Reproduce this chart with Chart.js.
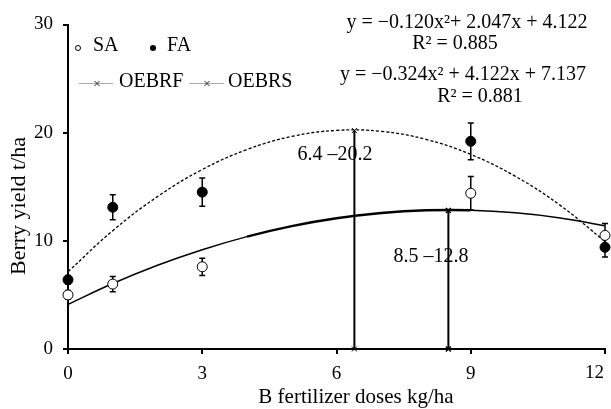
<!DOCTYPE html>
<html>
<head>
<meta charset="utf-8">
<script src="https://cdn.jsdelivr.net/npm/chart.js@4.4.0/dist/chart.umd.min.js"></script>
<style>
html, body { margin: 0; padding: 0; background: #fff; }
#wrap { width: 611px; height: 409px; }
</style>
</head>
<body>
<div id="wrap"><canvas id="chart" width="611" height="409"></canvas></div>
<script>
var FONT = '"Liberation Serif", "DejaVu Serif", serif';

// measured doses and yields (t/ha) with error bar half-widths
var doses = [0, 1, 3, 9, 12];
var saYield = [5.0, 6.0, 7.6, 14.4, 10.5];
var saErr = [0.4, 0.7, 0.8, 1.55, 1.1];
var faYield = [6.4, 13.1, 14.5, 19.2, 9.4];
var faErr = [0.4, 1.15, 1.3, 1.7, 0.9];

// fitted curves at each dose
var curveX = [0, 1, 2, 3, 4, 5, 6, 7, 8, 9, 10, 11, 12];
var faCurve = [7.14, 10.94, 14.09, 16.59, 18.44, 19.65, 20.21, 20.12, 19.38, 17.99, 15.96, 13.28, 9.94];
var saCurve = [4.12, 6.05, 7.74, 9.18, 10.39, 11.36, 12.08, 12.57, 12.82, 12.83, 12.59, 12.12, 11.40];

// optimum economic B rates
var oebrfX = [6.4, 6.4];
var oebrfY = [0, 20.2];
var oebrsX = [8.5, 8.5];
var oebrsY = [0, 12.8];

var xTicks = [0, 3, 6, 9, 12];
var yTicks = [0, 10, 20, 30];

var equations = [
    {text: 'y = \u22120.120x\u00b2+ 2.047x + 4.122', x: 467, y: 23},
    {text: 'R\u00b2 = 0.885', x: 455, y: 44},
    {text: 'y = \u22120.324x\u00b2 + 4.122x + 7.137', x: 463, y: 75},
    {text: 'R\u00b2 = 0.881', x: 480, y: 97}
];

function pts(xs, ys) {
    return xs.map(function(x, i) { return {x: x, y: ys[i]}; });
}

var errorBars = {
    id: 'errorBars',
    beforeDatasetsDraw: function(chart) {
        var ctx = chart.ctx, xs = chart.scales.x, ys = chart.scales.y;
        ctx.save();
        ctx.strokeStyle = '#000';
        ctx.lineWidth = 1.5;
        [[saYield, saErr], [faYield, faErr]].forEach(function(s) {
            doses.forEach(function(d, i) {
                var x = xs.getPixelForValue(d);
                var top = ys.getPixelForValue(s[0][i] + s[1][i]);
                var bot = ys.getPixelForValue(s[0][i] - s[1][i]);
                ctx.beginPath();
                ctx.moveTo(x, top); ctx.lineTo(x, bot);
                ctx.moveTo(x - 3, top); ctx.lineTo(x + 3, top);
                ctx.moveTo(x - 3, bot); ctx.lineTo(x + 3, bot);
                ctx.stroke();
            });
        });
        ctx.restore();
    }
};

function cross(ctx, x, y, r) {
    ctx.beginPath();
    ctx.moveTo(x - r, y - r); ctx.lineTo(x + r, y + r);
    ctx.moveTo(x - r, y + r); ctx.lineTo(x + r, y - r);
    ctx.stroke();
}

var labels = {
    id: 'labels',
    afterDraw: function(chart) {
        var ctx = chart.ctx, ys = chart.scales.y;
        ctx.save();
        ctx.fillStyle = '#000';
        ctx.textBaseline = 'middle';
        ctx.font = '20px ' + FONT;
        ctx.textAlign = 'center';
        equations.forEach(function(e) { ctx.fillText(e.text, e.x, e.y); });
        ctx.fillText('6.4 \u201320.2', 335, 155);
        ctx.fillText('8.5 \u201312.8', 431, 257);

        // axis titles
        ctx.font = '21px ' + FONT;
        ctx.fillText('B fertilizer doses kg/ha', 356, 397);
        ctx.save();
        ctx.translate(19, 206);
        ctx.rotate(-Math.PI / 2);
        ctx.font = '22px ' + FONT;
        ctx.fillText('Berry yield t/ha', 0, 0);
        ctx.restore();

        // last x tick label sits inside the canvas
        ctx.font = '19px ' + FONT;
        ctx.textAlign = 'right';
        ctx.fillText('12', 604, ys.bottom + 24);

        // legend
        ctx.font = '20px ' + FONT;
        ctx.textAlign = 'left';
        ctx.fillText('SA', 93, 46);
        ctx.fillText('FA', 167, 46);
        ctx.fillText('OEBRF', 119, 82);
        ctx.fillText('OEBRS', 228, 82);
        ctx.strokeStyle = '#000';
        ctx.lineWidth = 1;
        ctx.beginPath(); ctx.arc(78, 48, 2.5, 0, Math.PI * 2); ctx.stroke();
        ctx.beginPath(); ctx.arc(153, 48, 3, 0, Math.PI * 2); ctx.fill();
        ctx.strokeStyle = '#aaa';
        ctx.beginPath();
        ctx.moveTo(79, 83.5); ctx.lineTo(113, 83.5);
        ctx.moveTo(189, 83.5); ctx.lineTo(224, 83.5);
        ctx.stroke();
        ctx.strokeStyle = '#222';
        cross(ctx, 97, 83.5, 2.5);
        cross(ctx, 207, 83.5, 2.5);
        ctx.restore();
    }
};

var chart = new Chart(document.getElementById('chart'), {
    type: 'scatter',
    data: {
        datasets: [
            {
                label: 'SA',
                data: pts(doses, saYield),
                pointRadius: 5,
                pointBackgroundColor: '#fff',
                pointBorderColor: '#000',
                pointBorderWidth: 1,
                showLine: false,
                clip: false,
                order: 0
            },
            {
                label: 'FA',
                data: pts(doses, faYield),
                pointRadius: 5,
                pointBackgroundColor: '#000',
                pointBorderColor: '#000',
                pointBorderWidth: 1,
                showLine: false,
                clip: false,
                order: 0
            },
            {
                label: 'FA fit',
                data: pts(curveX, faCurve),
                showLine: true,
                pointRadius: 0,
                borderColor: '#000',
                borderWidth: 1.3,
                borderDash: [3, 2],
                tension: 0.4,
                clip: false,
                order: 2
            },
            {
                label: 'SA fit',
                data: pts(curveX, saCurve),
                showLine: true,
                pointRadius: 0,
                borderColor: '#000',
                borderWidth: 1.5,
                tension: 0.4,
                clip: false,
                segment: {
                    borderWidth: function(c) {
                        return (c.p0.parsed.x >= 4 && c.p1.parsed.x <= 9) ? 2.5 : 1.5;
                    }
                },
                order: 2
            },
            {
                label: 'OEBRF',
                data: pts(oebrfX, oebrfY),
                showLine: true,
                borderColor: '#000',
                borderWidth: 2,
                pointStyle: 'crossRot',
                pointRadius: 3.5,
                pointBorderColor: '#000',
                pointBorderWidth: 1,
                clip: false,
                order: 1
            },
            {
                label: 'OEBRS',
                data: pts(oebrsX, oebrsY),
                showLine: true,
                borderColor: '#000',
                borderWidth: 2,
                pointStyle: 'crossRot',
                pointRadius: 3.5,
                pointBorderColor: '#000',
                pointBorderWidth: 1.5,
                clip: false,
                order: 1
            }
        ]
    },
    options: {
        responsive: false,
        animation: false,
        events: [],
        layout: {padding: {top: 24.5, right: 4, left: 0, bottom: 0}},
        plugins: {legend: {display: false}, tooltip: {enabled: false}},
        scales: {
            x: {
                type: 'linear',
                min: 0,
                max: 12,
                afterBuildTicks: function(s) { s.ticks = xTicks.map(function(v) { return {value: v}; }); },
                afterFit: function(s) { s.height = 60; s.paddingRight = 0; },
                grid: {drawOnChartArea: false, drawTicks: true, tickLength: 5, color: '#000', lineWidth: 2},
                border: {color: '#000', width: 2},
                ticks: {
                    padding: 9,
                    font: {family: FONT, size: 19},
                    color: function(c) { return c.tick && c.tick.value === 12 ? 'rgba(0,0,0,0)' : '#000'; }
                },
                title: {display: false}
            },
            y: {
                min: 0,
                max: 30,
                afterBuildTicks: function(s) { s.ticks = yTicks.map(function(v) { return {value: v}; }); },
                afterFit: function(s) { s.width = 68; },
                grid: {drawOnChartArea: false, drawTicks: true, tickLength: 5, color: '#000', lineWidth: 2},
                border: {color: '#000', width: 2},
                ticks: {padding: 10, color: '#000', font: {family: FONT, size: 19}},
                title: {display: false}
            }
        }
    },
    plugins: [errorBars, labels]
});
</script>
</body>
</html>
